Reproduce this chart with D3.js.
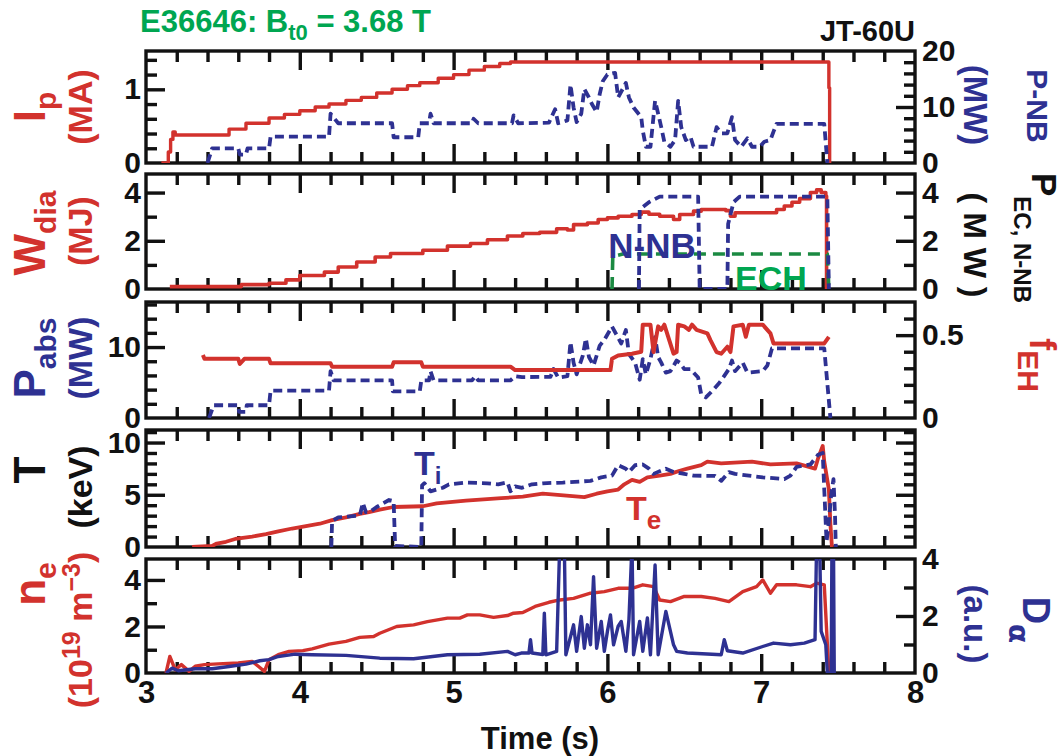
<!DOCTYPE html>
<html><head><meta charset="utf-8">
<script src="https://cdn.jsdelivr.net/npm/d3@7"></script>
<style>
html,body{margin:0;padding:0;background:#fff;}
svg text{font-family:'Liberation Sans Narrow','Arial Narrow','Liberation Sans',Arial,sans-serif;font-weight:bold;}
</style></head>
<body>
<svg id="c" width="1063" height="756"></svg>
<script>
// ---------------- DATA ----------------
const timeTicks = [3,4,5,6,7,8];
const ipData = [[3.10,0],[3.13,0],[3.145,0.15],[3.16,0.32],[3.175,0.42],[3.19,0.38],[3.45,0.38],[3.54,0.46],[3.65,0.54],[3.80,0.61],[3.90,0.66],[4.00,0.71],[4.10,0.76],[4.19,0.80],[4.30,0.85],[4.40,0.89],[4.50,0.95],[4.60,1.00],[4.70,1.05],[4.78,1.09],[4.90,1.15],[5.00,1.20],[5.10,1.26],[5.20,1.31],[5.30,1.35],[5.37,1.37],[7.41,1.37],[7.44,1.02],[7.445,0]];
const pnbData = [[3.40,0],[3.43,2.6],[3.60,2.6],[3.61,1.5],[3.65,1.5],[3.66,2.6],[3.80,2.6],[3.81,4.7],[4.19,4.7],[4.20,8.8],[4.25,7.1],[4.60,7.1],[4.61,4.6],[4.77,4.6],[4.78,7.1],[4.84,7.1],[4.85,8.8],[4.87,7.1],[5.12,7.1],[5.13,7.9],[5.16,7.1],[5.38,7.1],[5.39,8.5],[5.42,7.1],[5.62,7.2],[5.66,9.6],[5.68,7.1],[5.74,7.6],[5.76,14.0],[5.78,9.9],[5.80,7.3],[5.83,8.8],[5.85,13.2],[5.88,11.7],[5.90,10.5],[5.93,9.1],[5.95,12.3],[5.97,14.6],[6.00,15.8],[6.05,16.1],[6.07,11.7],[6.12,14.3],[6.14,11.7],[6.17,9.9],[6.22,8.2],[6.23,5.8],[6.25,2.9],[6.28,2.9],[6.31,11.1],[6.33,8.8],[6.35,6.4],[6.37,3.8],[6.41,2.9],[6.44,4.1],[6.46,11.1],[6.48,6.4],[6.51,4.1],[6.54,4.7],[6.56,2.9],[6.68,2.9],[6.71,6.4],[6.74,5.3],[6.78,5.3],[6.81,8.2],[6.83,4.1],[6.87,2.9],[6.91,4.4],[6.94,2.9],[6.99,2.9],[7.02,3.8],[7.06,4.1],[7.08,5.6],[7.10,7.0],[7.41,7.0],[7.43,0]];
const wdiaData = [[3.155,0.1],[3.62,0.18],[3.80,0.24],[3.91,0.38],[4.0,0.56],[4.16,0.7],[4.25,0.91],[4.37,1.12],[4.49,1.33],[4.59,1.47],[4.80,1.61],[4.96,1.78],[5.11,1.89],[5.22,2.04],[5.35,2.2],[5.45,2.3],[5.56,2.35],[5.67,2.5],[5.74,2.45],[5.78,2.67],[5.87,2.74],[5.94,2.88],[6.0,2.95],[6.07,3.02],[6.16,3.09],[6.22,3.19],[6.27,3.1],[6.34,3.02],[6.43,2.88],[6.47,3.09],[6.56,3.23],[6.61,3.3],[6.77,3.25],[6.80,3.02],[6.83,3.16],[7.06,3.16],[7.10,3.3],[7.15,3.44],[7.20,3.6],[7.25,3.75],[7.32,4.0],[7.36,4.11],[7.39,4.0],[7.42,3.86],[7.425,0]];
const nnbData = [[6.205,0],[6.21,3.3],[6.27,3.6],[6.34,3.83],[6.59,3.83],[6.60,0],[6.78,0],[6.785,2.7],[6.82,3.6],[6.86,3.83],[7.43,3.83],[7.44,0]];
const echData = [[6.03,0],[6.035,1.35],[6.10,1.45],[7.43,1.45],[7.44,0]];
const pabsData = [[3.41,0],[3.44,1.8],[3.60,1.8],[3.605,0.87],[3.65,0.87],[3.655,1.8],[3.80,1.8],[3.81,3.85],[4.19,3.85],[4.20,6.6],[4.22,5.3],[4.60,5.3],[4.605,3.75],[4.78,3.75],[4.79,5.3],[4.84,5.3],[4.85,6.6],[4.87,5.3],[5.12,5.3],[5.14,5.9],[5.16,5.3],[5.37,5.3],[5.40,5.9],[5.445,5.77],[5.63,5.8],[5.65,6.9],[5.68,5.7],[5.74,5.9],[5.76,10.7],[5.78,7.8],[5.80,6.15],[5.84,8.8],[5.86,11.2],[5.88,8.6],[5.91,7.4],[5.95,10.2],[5.98,11.0],[6.03,12.9],[6.06,11.7],[6.09,10.5],[6.12,12.4],[6.14,9.0],[6.18,7.8],[6.21,5.4],[6.23,8.3],[6.25,6.15],[6.28,8.3],[6.31,11.4],[6.33,8.6],[6.35,7.8],[6.38,6.4],[6.41,6.6],[6.45,8.1],[6.47,7.8],[6.50,6.9],[6.54,6.9],[6.59,5.7],[6.61,3.3],[6.64,2.9],[6.69,4.0],[6.73,5.0],[6.79,6.9],[6.81,8.1],[6.83,6.6],[6.88,7.8],[6.91,6.4],[7.01,6.6],[7.04,7.4],[7.07,9.8],[7.41,9.8],[7.45,0]];
const fehData = [[3.37,0.38],[3.38,0.357],[3.60,0.357],[3.61,0.326],[3.64,0.357],[3.80,0.357],[3.81,0.33],[4.20,0.33],[4.21,0.309],[4.60,0.309],[4.61,0.336],[4.79,0.336],[4.80,0.31],[5.37,0.31],[5.40,0.289],[6.02,0.289],[6.03,0.357],[6.07,0.377],[6.16,0.388],[6.22,0.40],[6.23,0.563],[6.28,0.563],[6.30,0.398],[6.33,0.553],[6.35,0.532],[6.37,0.563],[6.43,0.388],[6.45,0.398],[6.46,0.563],[6.50,0.553],[6.53,0.532],[6.55,0.563],[6.58,0.532],[6.65,0.511],[6.67,0.47],[6.71,0.398],[6.74,0.388],[6.78,0.43],[6.80,0.398],[6.82,0.553],[6.88,0.563],[6.90,0.49],[6.92,0.563],[7.01,0.563],[7.06,0.511],[7.08,0.45],[7.41,0.45],[7.44,0.49]];
const teData = [[3.30,0],[3.43,0.1],[3.46,0.33],[3.52,0.5],[3.58,0.77],[3.69,1.0],[3.78,1.23],[3.86,1.5],[3.95,1.77],[4.04,2.0],[4.13,2.23],[4.21,2.57],[4.30,2.83],[4.39,3.17],[4.45,3.33],[4.52,3.57],[4.61,3.83],[4.80,3.9],[4.89,4.17],[5.08,4.43],[5.31,4.67],[5.45,4.83],[5.58,5.1],[5.85,4.77],[5.93,5.1],[6.0,5.33],[6.07,5.5],[6.11,6.0],[6.16,6.43],[6.21,6.23],[6.26,6.67],[6.34,6.83],[6.41,7.0],[6.47,7.3],[6.52,7.5],[6.61,7.83],[6.65,8.17],[6.74,8.0],[6.94,8.17],[7.06,7.9],[7.23,8.0],[7.35,7.5],[7.37,8.5],[7.40,9.67],[7.41,8.17],[7.44,5.5],[7.45,2.17],[7.46,0]];
const tiData = [[4.205,0],[4.21,2.5],[4.25,2.83],[4.39,3.0],[4.41,4.23],[4.43,3.33],[4.46,3.4],[4.50,3.83],[4.54,4.17],[4.58,4.5],[4.61,4.4],[4.62,0.1],[4.79,0],[4.795,5.9],[4.81,6.1],[4.85,5.33],[4.93,5.67],[4.97,6.0],[5.09,6.17],[5.22,6.1],[5.29,6.0],[5.35,6.2],[5.37,5.33],[5.40,5.8],[5.445,5.67],[5.51,6.0],[5.58,6.1],[5.71,6.17],[5.89,6.33],[5.96,6.67],[6.03,6.83],[6.07,7.83],[6.12,7.5],[6.14,7.17],[6.18,7.83],[6.23,7.9],[6.27,7.5],[6.30,7.0],[6.38,7.5],[6.43,7.17],[6.50,7.0],[6.56,6.83],[6.70,6.8],[6.74,6.33],[6.79,7.17],[6.83,7.0],[6.92,6.83],[7.01,6.67],[7.15,6.5],[7.19,6.83],[7.23,7.67],[7.32,7.9],[7.37,8.83],[7.40,9.0],[7.41,5.5],[7.425,0.5],[7.44,2.5],[7.455,5.0],[7.47,6.5],[7.48,3.0],[7.485,0]];
const neData = [[3.13,0],[3.155,0.71],[3.19,0.14],[3.23,0.36],[3.28,0.07],[3.32,0.29],[3.38,0.36],[3.47,0.39],[3.60,0.43],[3.69,0.5],[3.73,0.29],[3.77,0.07],[3.80,0.57],[3.86,0.79],[3.93,0.93],[4.02,0.96],[4.08,1.04],[4.19,1.24],[4.30,1.36],[4.39,1.53],[4.48,1.57],[4.52,1.71],[4.63,2.0],[4.74,2.07],[4.83,2.21],[4.96,2.36],[5.04,2.36],[5.09,2.5],[5.17,2.5],[5.26,2.39],[5.35,2.47],[5.39,2.57],[5.45,2.6],[5.53,2.86],[5.62,3.04],[5.69,3.14],[5.78,3.21],[5.89,3.43],[5.98,3.5],[6.07,3.64],[6.16,3.64],[6.23,3.79],[6.30,3.71],[6.34,3.14],[6.41,3.07],[6.50,3.29],[6.61,3.29],[6.70,3.21],[6.79,3.07],[6.88,3.5],[6.97,3.71],[7.01,4.0],[7.06,3.43],[7.10,3.79],[7.23,3.79],[7.32,3.71],[7.36,3.86],[7.41,3.79],[7.44,0]];
const daData = [[3.13,0],[3.17,0.17],[3.21,0.08],[3.32,0.15],[3.43,0.15],[3.54,0.23],[3.65,0.31],[3.74,0.43],[3.80,0.47],[3.86,0.58],[3.97,0.66],[4.08,0.64],[4.30,0.62],[4.52,0.52],[4.74,0.5],[4.96,0.64],[5.17,0.66],[5.35,0.76],[5.40,0.64],[5.44,0.7],[5.49,0.7],[5.50,1.17],[5.51,0.7],[5.58,0.65],[5.59,2.1],[5.60,0.64],[5.67,0.76],[5.69,4.5],[5.72,4.5],[5.73,0.64],[5.78,1.69],[5.80,0.76],[5.83,1.98],[5.85,0.87],[5.87,1.69],[5.89,0.99],[5.91,3.38],[5.93,0.87],[5.96,1.81],[5.98,0.76],[6.0,1.46],[6.02,2.04],[6.04,0.99],[6.07,1.64],[6.09,1.81],[6.12,0.76],[6.14,1.87],[6.16,4.5],[6.17,0.64],[6.21,1.81],[6.23,0.76],[6.26,1.93],[6.28,0.64],[6.31,3.79],[6.33,0.64],[6.38,2.16],[6.43,0.99],[6.45,0.76],[6.52,0.7],[6.68,0.66],[6.74,0.64],[6.76,1.17],[6.78,0.78],[6.88,0.7],[7.01,0.93],[7.08,1.05],[7.19,0.99],[7.28,1.05],[7.35,1.17],[7.36,4.5],[7.38,4.5],[7.39,1.46],[7.42,0.99],[7.43,0],[7.455,0],[7.46,4.5],[7.47,4.5],[7.475,0]];

// axis tick definitions (values)
const ipTicks = {minor:[0.2,0.4,0.6,0.8,1.2,1.4], major:[1], labels:[0,1]};
const pnbTicks = {minor:[2,4,6,8,12,14,16,18], major:[10], labels:[0,10,20]};
const wTicks = {minor:[1,3], major:[2,4], labels:[0,2,4]};
const pabsTicks = {minor:[2,4,6,8,12,14,16], major:[10], labels:[0,10]};
const fehTicks = {minor:[0.1,0.2,0.3,0.4,0.6], major:[0.5], labels:[0,0.5]};
const tTicks = {minor:[1,2,3,4,6,7,8,9,11], major:[5,10], labels:[0,5,10]};
const tRTicks = {minor:[1,2,3,4,6,7,8,9,11], major:[5,10], labels:[]};
const neTicks = {minor:[1,3], major:[2,4], labels:[0,2,4]};
const daTicks = {minor:[1,3], major:[2], labels:[0,2,4]};

// ---------------- LAYOUT ----------------
const RED = "#d2322d", BLUE = "#2e3192", GREEN = "#00a651", DGREEN = "#1b8a42";
const FONT = "'Liberation Sans Narrow','Arial Narrow','Liberation Sans',Arial,sans-serif";
const L = 146, R = 915;
const panels = [
  {top:51, bot:163, yl:[0,1.52], yr:[0,20], lt:ipTicks, rt:pnbTicks},
  {top:174, bot:289, yl:[0,4.77], yr:[0,4.77], lt:wTicks, rt:wTicks},
  {top:302, bot:418, yl:[0,16.35], yr:[0,0.70], lt:pabsTicks, rt:fehTicks},
  {top:430, bot:547, yl:[0,11.2], yr:[0,11.2], lt:tTicks, rt:tRTicks},
  {top:559, bot:673, yl:[0,4.9], yr:[0,4], lt:neTicks, rt:daTicks}
];
const svg = d3.select("#c");
const x = d3.scaleLinear().domain([3,8]).range([L,R]);
const FS = 30;

panels.forEach((p,i)=>{
  p.yL = d3.scaleLinear().domain(p.yl).range([p.bot,p.top]);
  p.yR = d3.scaleLinear().domain(p.yr).range([p.bot,p.top]);
  svg.append("clipPath").attr("id","clip"+i).append("rect")
    .attr("x",L).attr("y",p.top).attr("width",R-L).attr("height",p.bot-p.top);
});

function fmt(v){ return v===0.5? "0.5" : String(v); }

function drawAxes(p,i){
  const g = svg.append("g");
  const xMinor = d3.range(3.2,8,0.2).filter(v=>Math.abs(v-Math.round(v))>1e-6);
  const xMajor = [4,5,6,7];
  const addX = (vals,len,orient,yPos)=>{
    const ax = (orient==="top"? d3.axisTop(x): d3.axisBottom(x)).tickValues(vals).tickSize(-len).tickFormat("");
    const gg = g.append("g").attr("transform",`translate(0,${yPos})`).call(ax);
    gg.select(".domain").remove();
    gg.selectAll("line").attr("stroke","#111").attr("stroke-width",3.4);
  };
  addX(xMinor,11,"top",p.top); addX(xMajor,19,"top",p.top);
  addX(xMinor,11,"bottom",p.bot); addX(xMajor,19,"bottom",p.bot);
  const addY = (scale,vals,len,side)=>{
    const ax = (side==="left"? d3.axisLeft(scale): d3.axisRight(scale)).tickValues(vals).tickSize(-len).tickFormat("");
    const gg = g.append("g").attr("transform",`translate(${side==="left"?L:R},0)`).call(ax);
    gg.select(".domain").remove();
    gg.selectAll("line").attr("stroke","#111").attr("stroke-width",3.4);
  };
  addY(p.yL,p.lt.minor,11,"left"); addY(p.yL,p.lt.major,19,"left");
  addY(p.yR,p.rt.minor,11,"right"); addY(p.yR,p.rt.major,19,"right");
  const lab = (scale,vals,side)=>{
    if(!vals.length) return;
    const ax = (side==="left"? d3.axisLeft(scale): d3.axisRight(scale)).tickValues(vals).tickSize(0).tickPadding(side==="left"?5:7).tickFormat(fmt);
    const gg = g.append("g").attr("transform",`translate(${side==="left"?L:R},0)`).call(ax);
    gg.select(".domain").remove();
    gg.selectAll("text").attr("font-size",FS).attr("fill","#111")
      .attr("font-family",FONT).attr("font-weight","bold");
  };
  lab(p.yL,p.lt.labels,"left"); lab(p.yR,p.rt.labels,"right");
  g.append("rect").attr("x",L).attr("y",p.top).attr("width",R-L).attr("height",p.bot-p.top)
    .attr("fill","none").attr("stroke","#111").attr("stroke-width",3.4);
}
panels.forEach(drawAxes);

const xb = svg.append("g").attr("transform",`translate(0,${panels[4].bot})`)
  .call(d3.axisBottom(x).tickValues(timeTicks).tickSize(0).tickPadding(8).tickFormat(d3.format("d")));
xb.select(".domain").remove();
xb.selectAll("text").attr("font-size",31).attr("fill","#111")
  .attr("font-family",FONT).attr("font-weight","bold");

function drawLine(pi,data,scaleKey,color,dash,width,curve){
  const p = panels[pi];
  const y = p[scaleKey];
  const line = d3.line().x(d=>x(d[0])).y(d=>y(d[1])).curve(curve||d3.curveLinear);
  svg.append("path").attr("clip-path",`url(#clip${pi})`).datum(data).attr("d",line)
    .attr("fill","none").attr("stroke",color).attr("stroke-width",width)
    .attr("stroke-dasharray",dash||null).attr("stroke-linejoin","round");
}
drawLine(0,ipData,"yL",RED,null,3.4,d3.curveStepAfter);
drawLine(0,pnbData,"yR",BLUE,"9,5",3.8);
drawLine(1,wdiaData,"yL",RED,null,3.6,d3.curveStepAfter);
drawLine(1,echData,"yR",DGREEN,"12,7",3.6);
drawLine(1,nnbData,"yR",BLUE,"9,5",3.8);
drawLine(2,pabsData,"yL",BLUE,"9,5",3.8);
drawLine(2,fehData,"yR",RED,null,4);
drawLine(3,teData,"yL",RED,null,3.8);
drawLine(3,tiData,"yL",BLUE,"9,5",3.8);
drawLine(4,neData,"yL",RED,null,3.4);
drawLine(4,daData,"yR",BLUE,null,3.4);

// ---------------- TEXT ----------------
function rich(x0,y0,parts,opts){
  const t = svg.append("text").attr("x",x0).attr("y",y0).attr("fill",opts.color)
    .attr("font-size",opts.size).attr("text-anchor",opts.anchor||"start");
  if(opts.rot) t.attr("transform",`rotate(${opts.rot},${x0},${y0})`);
  let shift=0;
  parts.forEach(pt=>{
    const s = t.append("tspan").text(pt.t);
    const target = pt.sub? (pt.subdy!=null?pt.subdy:opts.size*0.3) : pt.sup? -(pt.supdy||opts.size*0.38) : 0;
    s.attr("dy",target-shift); shift=target;
    if(pt.sub||pt.sup) s.attr("font-size",pt.fs||opts.size*0.72);
    if(pt.font) s.attr("font-family",pt.font);
  });
  return t;
}
// title
rich(140,32,[{t:"E36646: B"},{t:"t0",sub:true,subdy:8,fs:22}],{color:GREEN,size:31}).append("tspan").attr("dy",-8).text(" = 3.68 T");
rich(915,41,[{t:"JT-60U"}],{color:"#111",size:29,anchor:"end"});
svg.append("text").attr("x",540).attr("y",749).attr("text-anchor","middle").attr("font-size",31).attr("fill","#111").text("Time (s)");

// left labels (rotated, read bottom to top)
rich(45,107,[{t:"I"},{t:"p",sub:true,subdy:11,fs:30}],{color:RED,size:44,anchor:"middle",rot:-90});
rich(92,107,[{t:"(MA)"}],{color:RED,size:34,anchor:"middle",rot:-90});
rich(45,233,[{t:"W"},{t:"dia",sub:true,subdy:11,fs:30}],{color:RED,size:44,anchor:"middle",rot:-90});
rich(92,231,[{t:"(MJ)"}],{color:RED,size:34,anchor:"middle",rot:-90});
rich(45,358,[{t:"P"},{t:"abs",sub:true,subdy:11,fs:30}],{color:BLUE,size:44,anchor:"middle",rot:-90});
rich(92,358,[{t:"(MW)"}],{color:BLUE,size:34,anchor:"middle",rot:-90});
rich(45,470,[{t:"T"}],{color:"#111",size:44,anchor:"middle",rot:-90});
rich(92,487,[{t:"(keV)"}],{color:"#111",size:34,anchor:"middle",rot:-90});
rich(45,584,[{t:"n"},{t:"e",sub:true,subdy:11,fs:30}],{color:RED,size:44,anchor:"middle",rot:-90});
rich(92,630,[{t:"(10"},{t:"19",sup:true,supdy:12,fs:25},{t:" m"},{t:"−3",sup:true,supdy:12,fs:25},{t:")"}],{color:RED,size:34,anchor:"middle",rot:-90});
// right labels (rotated, read top to bottom)
rich(964,105,[{t:"(MW)"}],{color:BLUE,size:33,anchor:"middle",rot:90});
rich(1027,106,[{t:"P-NB"}],{color:BLUE,size:30,anchor:"middle",rot:90});
rich(1032,238,[{t:"P"},{t:"EC, N-NB",sub:true,subdy:18,fs:24}],{color:"#111",size:35,anchor:"middle",rot:90});
rich(964,245,[{t:"( M W )"}],{color:"#111",size:32,anchor:"middle",rot:90});
rich(1030,365,[{t:"f"},{t:"EH",sub:true,subdy:12,fs:30}],{color:RED,size:36,anchor:"middle",rot:90});
rich(1023,620,[{t:"D"},{t:"α",sub:true,subdy:14,fs:28,font:"'DejaVu Sans',sans-serif"}],{color:BLUE,size:38,anchor:"middle",rot:90});
rich(964,624,[{t:"(a.u.)"}],{color:BLUE,size:33,anchor:"middle",rot:90});

// annotations
rich(652,258,[{t:"N-NB"}],{color:BLUE,size:35,anchor:"middle"});
rich(771,290,[{t:"ECH"}],{color:GREEN,size:34,anchor:"middle"});
rich(414,475,[{t:"T"},{t:"i",sub:true,subdy:9,fs:24}],{color:BLUE,size:34,anchor:"start"});
rich(626,520,[{t:"T"},{t:"e",sub:true,subdy:9,fs:26}],{color:RED,size:34,anchor:"start"});
</script>
</body></html>
